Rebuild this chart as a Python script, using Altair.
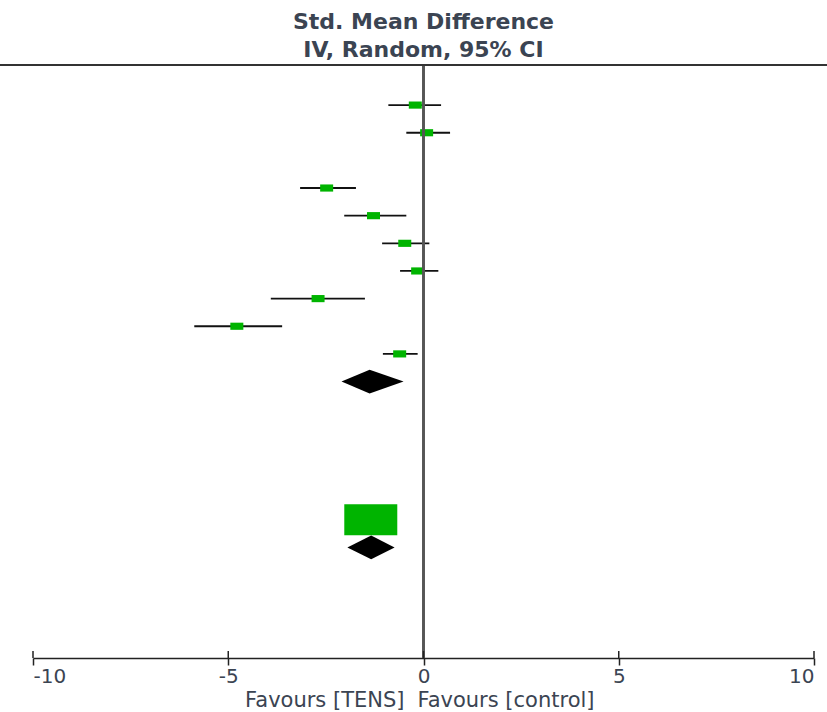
import altair as alt
import pandas as pd

# ---- data ----
study_rows = [0, 1, 3, 4, 5, 6, 7, 8, 9]
study_est = [-0.21, 0.08, -2.48, -1.28, -0.48, -0.15, -2.70, -4.78, -0.61]
study_lo = [-0.90, -0.44, -3.16, -2.03, -1.06, -0.60, -3.91, -5.87, -1.04]
study_hi = [0.45, 0.68, -1.73, -0.44, 0.15, 0.38, -1.50, -3.62, -0.15]

diamond_rows = [10, 16]
diamond_est = [-1.38, -1.34]
diamond_lo = [-2.10, -1.95]
diamond_hi = [-0.51, -0.74]

total_square_rows = [15]
total_square_est = [-1.35]

tick_values = [-10, -5, 0, 5, 10]
header_lines = ["Std. Mean Difference", "IV, Random, 95% CI"]
favours_left = "Favours [TENS]"
favours_right = "Favours [control]"

# ---- style ----
TEXT = "#3b4452"
GREEN = "#00b400"
FONT = "DejaVu Sans"
W, H = 781, 593
HALF = 0.43  # diamond half height in row units

studies = pd.DataFrame({"row": study_rows, "est": study_est, "lo": study_lo, "hi": study_hi})
total_sq = pd.DataFrame({"row": total_square_rows, "est": total_square_est})
ticks = pd.DataFrame({"t": tick_values})

xscale = alt.Scale(domain=[-10, 10], nice=False, zero=False)
yscale = alt.Scale(domain=[-1.45, 20], reverse=True, nice=False, zero=False)

xaxis = alt.Axis(values=tick_values, title=None, grid=False, domainColor="#222222",
                 domainWidth=1.5, tickColor="#222222", tickWidth=1.5, tickSize=7,
                 labelFont=FONT, labelFontSize=20, labelColor=TEXT, labelFlush=True,
                 labelPadding=1, labelExpr="'' + datum.value")

base = alt.Chart(studies)

ci = base.mark_rule(color="#111111", strokeWidth=1.8).encode(
    x=alt.X("lo:Q", scale=xscale, axis=xaxis),
    x2="hi:Q",
    y=alt.Y("row:Q", scale=yscale, axis=None),
)

sq = base.mark_point(shape="M-1,-0.55L1,-0.55L1,0.55L-1,0.55Z", size=169, filled=True,
                     color=GREEN, opacity=1, strokeWidth=0).encode(
    x=alt.X("est:Q", scale=xscale), y=alt.Y("row:Q", scale=yscale))

big = alt.Chart(total_sq).mark_point(shape="M-1,-0.585L1,-0.585L1,0.585L-1,0.585Z", size=2809,
                                     filled=True, color=GREEN, opacity=1, strokeWidth=0).encode(
    x=alt.X("est:Q", scale=xscale), y=alt.Y("row:Q", scale=yscale))

dia_layers = []
for r, e, l, h in zip(diamond_rows, diamond_est, diamond_lo, diamond_hi):
    d = pd.DataFrame({"x": [l, e, h], "y1": [r, r - HALF, r], "y2": [r, r + HALF, r]})
    dia_layers.append(
        alt.Chart(d).mark_area(color="black", opacity=1, orient="vertical").encode(
            x=alt.X("x:Q", scale=xscale),
            y=alt.Y("y1:Q", scale=yscale, stack=None),
            y2="y2:Q",
        )
    )

zero = alt.Chart(ticks).mark_rule(color="#555555", strokeWidth=2).encode(
    x=alt.datum(0, scale=xscale))

top_line = alt.Chart(ticks).mark_rule(color="#333333", strokeWidth=2).encode(
    x=alt.value(-33), x2=alt.value(W + 13), y=alt.value(0))

up_ticks = alt.Chart(ticks).mark_rule(color="#222222", strokeWidth=1.5).encode(
    x=alt.X("t:Q", scale=xscale), y=alt.value(H - 7), y2=alt.value(H))

fav_l = alt.Chart(pd.DataFrame({"t": [favours_left]})).mark_text(
    font=FONT, fontSize=21, color=TEXT, align="right", baseline="middle", dx=-19).encode(
    x=alt.datum(0, scale=xscale), y=alt.value(H + 43), text="t:N")
fav_r = alt.Chart(pd.DataFrame({"t": [favours_right]})).mark_text(
    font=FONT, fontSize=21, color=TEXT, align="left", baseline="middle", dx=-6).encode(
    x=alt.datum(0, scale=xscale), y=alt.value(H + 43), text="t:N")

chart = alt.layer(ci, sq, big, *dia_layers, zero, top_line, up_ticks, fav_l, fav_r).properties(
    width=W, height=H,
    title=alt.TitleParams(text=header_lines, font=FONT, fontSize=22, fontWeight="bold",
                          color=TEXT, anchor="middle", lineHeight=28, offset=2),
    autosize=alt.AutoSizeParams(type="none"),
    padding={"left": 33, "top": 65, "right": 13, "bottom": 54},
    background="white",
).configure_view(stroke=None)

chart.save("out.html", embed_options={"renderer": "svg", "actions": False})
